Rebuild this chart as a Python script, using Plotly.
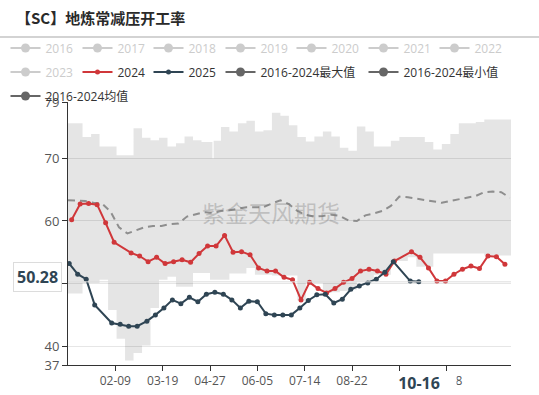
import plotly.graph_objects as go
import pandas as pd

# ---------------- data ----------------
inactive_years = ["2016", "2017", "2018", "2019", "2020", "2021", "2022", "2023"]

dates_2024 = pd.date_range("2024-01-04", periods=52, freq="7D").strftime("%m-%d").tolist()
vals_2024 = [60.2, 62.7, 62.8, 62.6, 59.7, 56.6, None, 54.9, 54.4, 53.5,
             54.2, 53.2, 53.5, 53.8, 53.4, 54.8, 56.0, 56.0, 57.7, 55.0,
             55.1, 54.6, 52.5, 52.0, 52.0, 51.0, 50.6, 47.4, 50.2, 49.2,
             48.5, 49.2, 50.2, 50.8, 52.0, 52.3, 52.0, 51.5, 53.6, None,
             55.1, 54.2, 52.5, 50.4, 50.4, 51.5, 52.3, 52.8, 52.4, 54.4,
             54.3, 53.1]

dates_2025 = pd.date_range("2025-01-02", periods=42, freq="7D").strftime("%m-%d").tolist()
vals_2025 = [53.2, 51.5, 50.7, 46.6, None, 43.7, 43.5, 43.2, 43.2, 44.0,
             45.0, 46.1, 47.4, 46.8, 47.8, 47.1, 48.3, 48.6, 48.3, 47.4,
             46.1, 47.2, 47.1, 45.2, 45.0, 45.0, 45.0, 46.1, 47.3, 48.2,
             48.3, 46.9, 47.5, 49.1, 49.6, 50.1, 50.7, 51.8, 53.5, None,
             50.4, 50.28]

mean_dates = pd.date_range("2024-01-01", periods=53, freq="7D").strftime("%m-%d").tolist()
mean_vals = [63.3, 63.3, 63.2, 62.9, 62.8, 61.5, 59.0, 58.0, 58.5, 59.0,
             59.2, 59.2, 59.5, 59.6, 60.7, 61.1, 61.4, 61.3, 61.6, 61.7,
             61.9, 62.2, 62.2, 62.2, 62.8, 63.3, 62.7, 61.6, 61.0, 60.7,
             60.8, 61.0, 60.8, 60.1, 60.0, 60.9, 61.2, 61.6, 62.4, 63.9,
             63.8, 63.6, 63.3, 63.2, 62.9, 63.2, 63.5, 63.7, 64.0, 64.6,
             64.7, 64.6, 63.7]

band_dates = ["01-01", "01-13", "01-20", "01-27", "02-03", "02-10", "02-17", "02-24",
              "03-02", "03-09", "03-16", "03-23", "03-30", "04-06", "04-13", "04-20",
              "04-27", "04-29", "04-30", "05-06", "05-13", "05-20", "05-27", "06-03",
              "06-10", "06-17", "06-24", "07-01", "07-08", "07-15", "07-22", "07-29",
              "08-05", "08-12", "08-19", "08-26", "09-02", "09-09", "09-16", "09-23",
              "09-30", "10-07", "10-14", "10-21", "10-28", "11-04", "11-11", "11-18",
              "11-25", "12-02", "12-09", "12-31"]
band_max = [75.6, 73.4, 73.9, 71.9, 71.9, 70.5, 70.5, 74.8,
            73.3, 72.9, 73.3, 71.9, 72.4, 73.5, 72.9, 72.6,
            72.6, 70.0, 72.8, 75.0, 74.3, 75.6, 76.0, 74.3,
            74.5, 77.3, 76.8, 75.3, 73.4, 72.7, 73.5, 74.3,
            73.5, 71.7, 71.2, 75.1, 74.3, 71.9, 71.9, 72.8,
            73.4, 73.4, 73.4, 72.6, 71.4, 72.3, 73.9, 75.6,
            75.6, 75.8, 76.2, 76.2]
band_min = [48.4, 50.1, 50.1, 50.6, 45.8, 41.2, 37.7, 38.9,
            40.1, 46.1, 50.6, 51.1, 49.5, 49.5, 51.7, 51.7,
            50.6, 50.6, 50.6, 50.6, 51.6, 51.6, 52.5, 51.4,
            51.4, 51.3, 51.3, 51.3, 47.3, 50.1, 50.1, 48.5,
            48.6, 48.8, 49.0, 50.3, 50.3, 51.4, 51.4, 53.6,
            53.6, 54.2, 52.7, 52.7, 54.8, 54.8, 54.8, 54.8,
            54.8, 54.8, 54.5, 54.5]

tick_dates = ["02-09", "03-19", "04-27", "06-05", "07-14", "08-22", "09-30", "11-08"]
y_ticks = [37, 40, 50, 60, 70, 79]
pointer_date = "10-16"
pointer_value = 50.28

band_names = ["2016-2024最大值", "2016-2024最小值", "2016-2024均值"]


def on_axis(mds):
    return ["2024-" + md for md in mds]


RED = "#d0373a"
NAVY = "#2f4554"
GRAY = "#666666"
INACTIVE = "#cccccc"
FONT = "Open Sans, Noto Sans CJK SC, sans-serif"

W, H = 539, 395
L, R, T, B = 68, 28, 102, 30
pw, ph = W - L - R, H - T - B

# legend slot layout (icon start x, row centre y)
col_x = [13, 85, 156, 228, 299, 371, 442]
row_y = [48, 72, 96]
legend_order = inactive_years[:7] + ["2023", "2024", "2025"] + band_names
slots = [(col_x[i], row_y[0]) for i in range(7)] + \
        [(col_x[0], row_y[1]), (col_x[1], row_y[1]), (col_x[2], row_y[1]),
         (col_x[3], row_y[1]), (col_x[5], row_y[1]), (col_x[0], row_y[2])]
legend_id = {}
for i, nm in enumerate(legend_order):
    legend_id[nm] = "legend" if i == 0 else f"legend{i + 1}"

fig = go.Figure()

# legend entries for the (switched-off) years
for yr in inactive_years:
    fig.add_trace(go.Scatter(
        x=[None], y=[None], mode="lines+markers", name=yr,
        line=dict(color=INACTIVE, width=2), marker=dict(color=INACTIVE, size=9),
        legend=legend_id[yr],
    ))

# max/min band
fig.add_trace(go.Scatter(
    x=on_axis(band_dates), y=band_min, mode="lines",
    line=dict(width=0, shape="hv"), showlegend=False, hoverinfo="skip",
))
fig.add_trace(go.Scatter(
    x=on_axis(band_dates), y=band_max, mode="lines", fill="tonexty",
    fillcolor="rgba(0,0,0,0.10)", line=dict(width=0, shape="hv"),
    showlegend=False, hoverinfo="skip",
))

# mean
fig.add_trace(go.Scatter(
    x=on_axis(mean_dates), y=mean_vals, mode="lines",
    line=dict(color="#8e8e8e", width=2, dash="7px,5px"),
    showlegend=False, hoverinfo="skip",
))

# 2024 / 2025
fig.add_trace(go.Scatter(
    x=on_axis(dates_2024), y=vals_2024, mode="lines+markers", name="2024",
    connectgaps=True, line=dict(color=RED, width=2), marker=dict(color=RED, size=5),
    legend=legend_id["2024"],
))
fig.add_trace(go.Scatter(
    x=on_axis(dates_2025), y=vals_2025, mode="lines+markers", name="2025",
    connectgaps=True, line=dict(color=NAVY, width=2), marker=dict(color=NAVY, size=5),
    legend=legend_id["2025"],
))

# legend entries for the band and mean
for nm in band_names:
    fig.add_trace(go.Scatter(
        x=[None], y=[None], mode="lines+markers", name=nm,
        line=dict(color=GRAY, width=2), marker=dict(color=GRAY, size=9),
        legend=legend_id[nm],
    ))

legends = {}
for nm, (ix, ry) in zip(legend_order, slots):
    color = INACTIVE if nm in inactive_years else "#333333"
    legends[legend_id[nm]] = dict(
        orientation="h", xref="container", yref="container",
        x=(ix - 7.5) / W, xanchor="left", y=1 - ry / H, yanchor="middle",
        bgcolor="rgba(0,0,0,0)", font=dict(size=12, color=color),
        itemclick=False, itemdoubleclick=False)

fig.update_layout(
    width=W, height=H,
    margin=dict(l=L, r=R, t=T, b=B, autoexpand=False),
    paper_bgcolor="white", plot_bgcolor="white",
    font=dict(family=FONT, size=12, color="#555"),
    hovermode=False,
    title=dict(text="<b>【SC】地炼常减压开工率</b>", x=16 / W, xref="container", xanchor="left",
               y=1 - 19 / H, yref="container", yanchor="middle",
               font=dict(family="Noto Sans CJK SC", size=15, color="#2a2a2a")),
    xaxis=dict(
        type="date", range=["2024-01-01", "2024-12-31"],
        tickvals=on_axis(tick_dates), ticktext=tick_dates,
        showgrid=False, zeroline=False,
        showline=True, linecolor="#333", linewidth=1,
        ticks="outside", ticklen=5, tickcolor="#333",
        tickfont=dict(size=12, color="#555"),
    ),
    yaxis=dict(
        range=[37, 79], tickvals=y_ticks, ticktext=[str(v) for v in y_ticks],
        showgrid=True, gridcolor="#e6e6e6", gridwidth=1, zeroline=False,
        showline=True, linecolor="#333", linewidth=1,
        ticks="outside", ticklen=5, tickcolor="#333",
        tickfont=dict(size=13, color="#555"),
    ),
    **legends,
)

# separator under title
fig.add_shape(type="line", xref="paper", yref="paper",
              x0=-L / pw, x1=(W - L) / pw, y0=1 + (T - 37) / ph, y1=1 + (T - 37) / ph,
              line=dict(color="#c4c4c4", width=1.5))

# axis-pointer horizontal line
fig.add_shape(type="line", xref="paper", yref="y", x0=0, x1=1,
              y0=pointer_value, y1=pointer_value, line=dict(color="#dddddd", width=1))

# watermark
fig.add_annotation(text="紫金天风期货", xref="paper", yref="paper",
                   x=(271 - L) / pw, y=(H - B - 212) / ph, showarrow=False,
                   font=dict(family="Noto Sans CJK SC", size=23, color="rgba(120,120,120,0.35)"))

# axis-pointer labels
fig.add_annotation(text=f"<b>{pointer_value:.2f}</b>", xref="paper", yref="y",
                   x=0, y=pointer_value, xanchor="right", xshift=-6, yshift=5,
                   showarrow=False, bgcolor="white", bordercolor="#dcdcdc", borderwidth=1,
                   borderpad=3, font=dict(size=16, color=NAVY))
fig.add_annotation(text=f"<b>{pointer_date}</b>", xref="x", yref="paper",
                   x="2024-" + pointer_date, y=0, yanchor="top", yshift=-6,
                   width=72, height=20, showarrow=False, bgcolor="white",
                   font=dict(size=16, color=NAVY))

fig.write_html("out.html", config={"displayModeBar": False},
               post_script="document.body.style.margin='0';")
